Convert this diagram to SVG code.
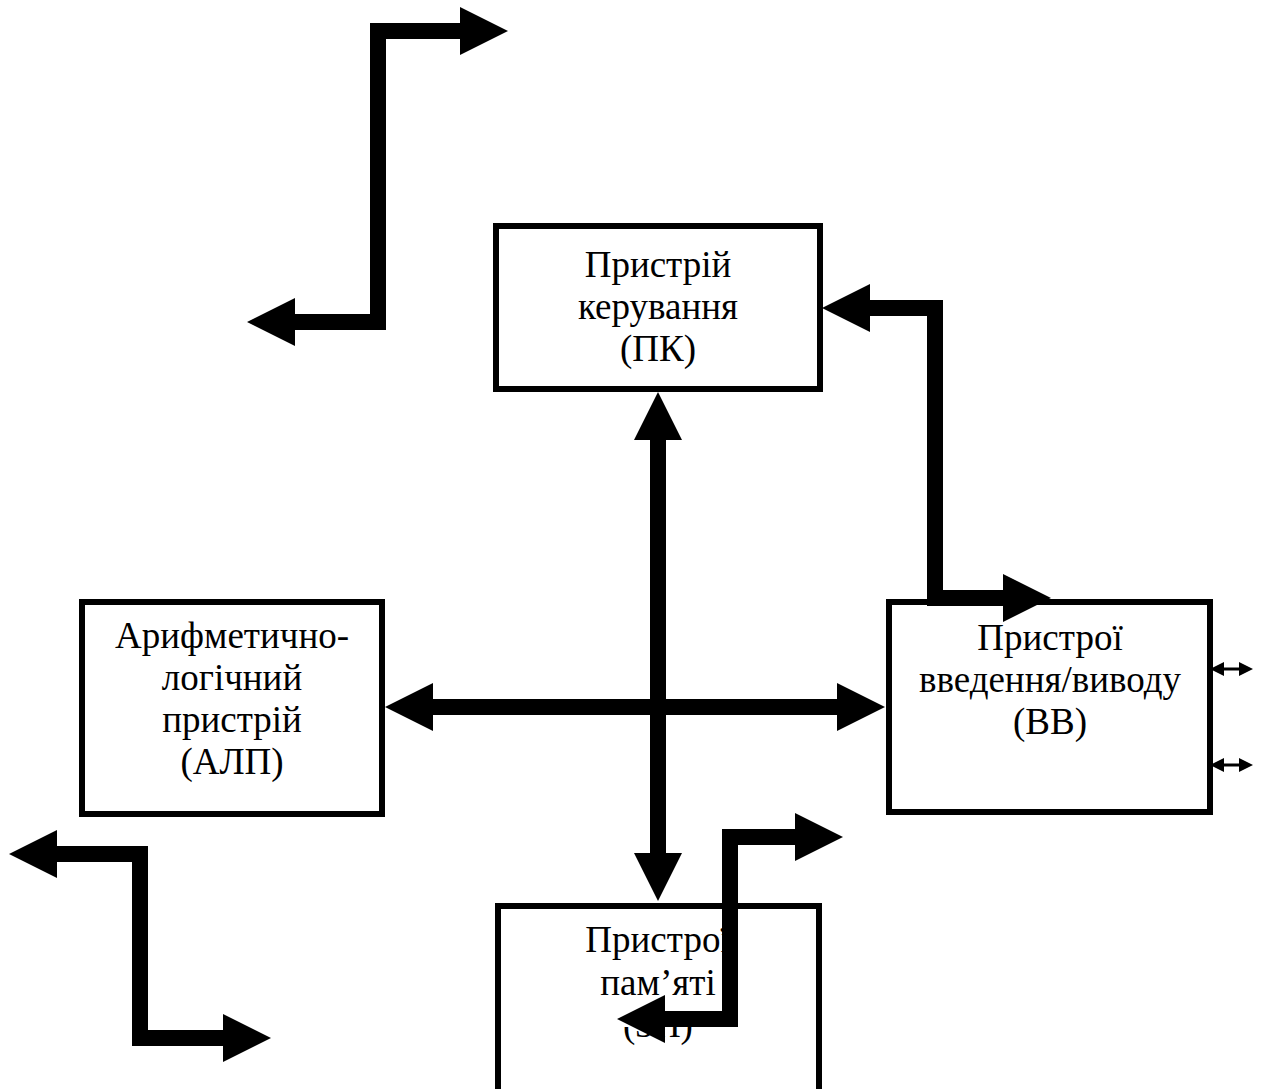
<svg xmlns="http://www.w3.org/2000/svg" width="1262" height="1089" viewBox="0 0 1262 1089">
  <style>
    .box { fill: #ffffff; stroke: #000000; stroke-width: 6; }
    .lbl { font-family: "Liberation Serif", "Times New Roman", serif; font-size: 37px; fill: #000000; text-anchor: middle; }
    .bus { fill: none; stroke: #000000; stroke-width: 16; stroke-linejoin: miter; stroke-linecap: butt; marker-start: url(#head); marker-end: url(#head); }
    .thin { fill: none; stroke: #000000; stroke-width: 3; marker-start: url(#small); marker-end: url(#small); }
  </style>
  <defs>
    <marker id="head" markerUnits="userSpaceOnUse" markerWidth="48" markerHeight="48" refX="0" refY="24" orient="auto-start-reverse" overflow="visible">
      <path d="M0,0 L48,24 L0,48 Z" fill="#000000"/>
    </marker>
    <marker id="small" markerUnits="userSpaceOnUse" markerWidth="14" markerHeight="14" refX="0" refY="7" orient="auto-start-reverse" overflow="visible">
      <path d="M0,0 L14,7 L0,14 Z" fill="#000000"/>
    </marker>
    <clipPath id="zpClip">
      <rect x="0" y="1027" width="1262" height="62"/>
    </clipPath>
  </defs>
  <rect x="0" y="0" width="1262" height="1089" fill="#ffffff"/>

  <g id="node-pk">
    <rect class="box" x="496" y="226" width="324" height="163"/>
    <text class="lbl" x="658" y="277">Пристрій</text>
    <text class="lbl" x="658" y="319">керування</text>
    <text class="lbl" x="658" y="361">(ПК)</text>
  </g>

  <g id="node-alp">
    <rect class="box" x="82" y="602" width="300" height="212"/>
    <text class="lbl" x="232" y="648">Арифметично-</text>
    <text class="lbl" x="232" y="690">логічний</text>
    <text class="lbl" x="232" y="732">пристрій</text>
    <text class="lbl" x="232" y="774">(АЛП)</text>
  </g>

  <g id="node-vv">
    <rect class="box" x="889" y="602" width="321" height="210"/>
    <text class="lbl" x="1050" y="650">Пристрої</text>
    <text class="lbl" x="1050" y="692">введення/виводу</text>
    <text class="lbl" x="1050" y="734">(ВВ)</text>
  </g>

  <g id="node-zp">
    <rect class="box" x="498" y="906" width="321" height="200"/>
    <text class="lbl" x="658" y="952">Пристрої</text>
    <text class="lbl" x="658" y="995">пам’яті</text>
    <text class="lbl" x="658" y="1037" clip-path="url(#zpClip)">(ЗП)</text>
  </g>

  <g id="connectors">
    <path class="bus" d="M295,322 L378,322 L378,31 L460,31"/>
    <path class="bus" d="M870,308 L935,308 L935,598 L1003,598"/>
    <path class="bus" d="M658,440 L658,853"/>
    <path class="bus" d="M433,707 L837,707"/>
    <path class="bus" d="M665,1019 L730,1019 L730,837 L795,837"/>
    <path class="bus" d="M57,854 L140,854 L140,1038 L223,1038"/>
    <path class="thin" d="M1224,669 L1239,669"/>
    <path class="thin" d="M1224,765 L1239,765"/>
  </g>
</svg>
